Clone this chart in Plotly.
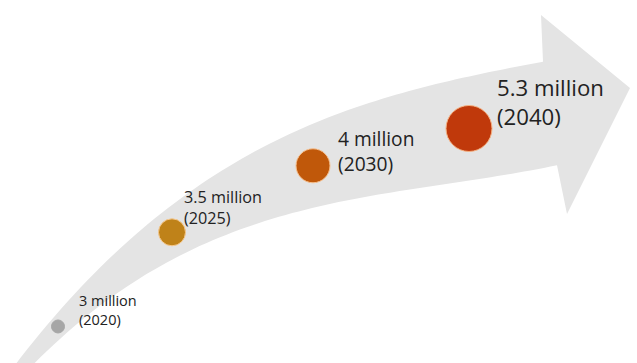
import numpy as np
import plotly.graph_objects as go

# ---- data ----
years = [2020, 2025, 2030, 2040]
population_millions = [3, 3.5, 4, 5.3]

# ---- styles / layout (decorative infographic) ----
marker_colors = ["#A6A6A6", "#BF8219", "#C0580A", "#C0390B"]
marker_lines = ["#A6A6A6", "#F6C98F", "#F6C08F", "#F4B183"]
marker_diam = [13, 27, 34, 46]
label_sizes = [14.5, 16.2, 19.2, 22.2]
spine_x = [58, 172, 313, 469]          # where each milestone sits along the arrow
label_dx = [19, 10, 23, 26]            # label offset right of marker centre (px)
label_dy = [-16.5, -24.5, -14.5, -26]  # label block centre, relative to marker (px, down +)

W, H = 637, 363
arrow_color = "#E4E4E4"
text_color = "#222222"

# arrow outline (decorative shape, pixel space)
upper_pts = np.array([(20, 363), (50, 316), (83, 283), (117, 253), (150, 222), (183, 200),
                      (217, 172), (283, 137), (350, 112), (397, 92), (463, 77), (540, 63)])
lower_pts = np.array([(40, 363), (67, 331), (100, 300), (133, 280), (167, 262), (200, 247),
                      (250, 230), (283, 218), (350, 202), (430, 180), (557, 167)])
up_fit = np.polyfit(upper_pts[:, 0], upper_pts[:, 1], 3)
lo_fit = np.polyfit(lower_pts[:, 0], lower_pts[:, 1], 3)

ux = np.linspace(14, 543, 80)
uy = np.polyval(up_fit, ux)
lx = np.linspace(557, 34, 80)
ly = np.polyval(lo_fit, lx)
head = [(541, 15), (630, 88), (567, 214)]

pts = list(zip(ux, uy)) + head + list(zip(lx, ly))
path = "M " + " L ".join(f"{x:.1f},{y:.1f}" for x, y in pts) + " Z"

# milestone positions along the arrow centre
mx = np.array(spine_x, dtype=float)
my = (np.polyval(up_fit, mx) + np.polyval(lo_fit, mx)) / 2

fig = go.Figure()
fig.add_shape(type="path", path=path, xref="x", yref="y",
              fillcolor=arrow_color, line=dict(width=0), layer="below")

fig.add_trace(go.Scatter(
    x=mx, y=my, mode="markers",
    marker=dict(size=marker_diam, color=marker_colors,
                line=dict(color=marker_lines, width=1), opacity=1),
    hoverinfo="skip", showlegend=False,
))

for i, (yr, val) in enumerate(zip(years, population_millions)):
    fig.add_annotation(
        x=mx[i], y=my[i] + label_dy[i], xref="x", yref="y",
        text=f"{val:g} million<br>({yr})",
        showarrow=False, xanchor="left", yanchor="middle", align="left",
        xshift=label_dx[i],
        font=dict(family="Open Sans", size=label_sizes[i], color=text_color),
    )

fig.update_layout(
    width=W, height=H,
    margin=dict(l=0, r=0, t=0, b=0),
    paper_bgcolor="white", plot_bgcolor="white",
    xaxis=dict(range=[0, W], visible=False, fixedrange=True),
    yaxis=dict(range=[H, 0], visible=False, fixedrange=True),
)

fig.write_html("out.html")
